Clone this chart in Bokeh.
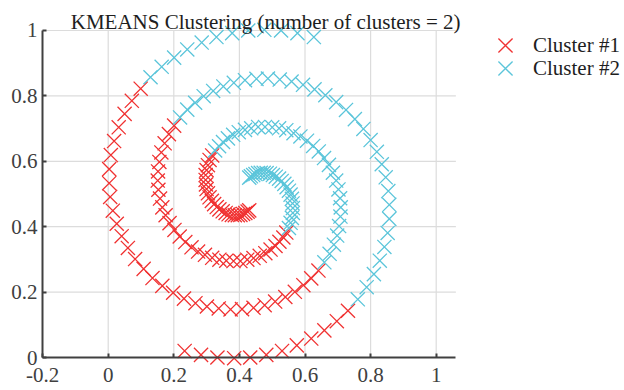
from bokeh.plotting import figure
from bokeh.models import Range1d, FixedTicker, Label, Legend, LegendItem, NumeralTickFormatter
from bokeh.embed import file_html
from bokeh.resources import INLINE

title_text = "KMEANS Clustering (number of clusters = 2)"
series_names = ["Cluster #1", "Cluster #2"]
x_ticks = [-0.2, 0, 0.2, 0.4, 0.6, 0.8, 1]
x_tick_labels = ["-0.2", "0", "0.2", "0.4", "0.6", "0.8", "1"]
y_ticks = [0, 0.2, 0.4, 0.6, 0.8, 1]
y_tick_labels = ["0", "0.2", "0.4", "0.6", "0.8", "1"]

# Cluster #1 (red)
cluster1_x = [
    0.430, 0.425, 0.418, 0.411, 0.403, 0.395, 0.386, 0.377, 0.367, 0.358, 0.349, 0.339, 0.331,
    0.323, 0.316, 0.309, 0.304, 0.300, 0.298, 0.297, 0.297, 0.300, 0.304, 0.309, 0.317,
    0.641, 0.619, 0.595, 0.569, 0.540, 0.509, 0.477, 0.443, 0.408, 0.373, 0.337, 0.301, 0.266,
    0.231, 0.198, 0.165, 0.135, 0.108, 0.082, 0.060, 0.041, 0.026, 0.014, 0.006, 0.003, 0.003,
    0.008, 0.018, 0.032, 0.050, 0.072, 0.099,
    0.543, 0.534, 0.522, 0.510, 0.495, 0.479, 0.462, 0.443, 0.424, 0.403, 0.382, 0.360, 0.339,
    0.317, 0.295, 0.274, 0.254, 0.235, 0.218, 0.202, 0.187, 0.175, 0.165, 0.158, 0.153, 0.151,
    0.152, 0.156, 0.162, 0.172, 0.185, 0.201,
    0.731, 0.697, 0.659, 0.619, 0.575, 0.530, 0.482, 0.433, 0.384, 0.333, 0.283, 0.233,
]
cluster1_y = [
    0.450, 0.446, 0.442, 0.439, 0.436, 0.435, 0.435, 0.436, 0.438, 0.442, 0.447, 0.453, 0.460,
    0.469, 0.479, 0.490, 0.502, 0.515, 0.529, 0.543, 0.558, 0.573, 0.588, 0.604, 0.618,
    0.266, 0.242, 0.221, 0.201, 0.185, 0.171, 0.160, 0.152, 0.148, 0.147, 0.150, 0.156, 0.166,
    0.180, 0.198, 0.219, 0.243, 0.271, 0.301, 0.335, 0.371, 0.409, 0.449, 0.491, 0.533, 0.576,
    0.619, 0.662, 0.704, 0.745, 0.785, 0.822,
    0.382, 0.367, 0.354, 0.341, 0.330, 0.319, 0.311, 0.304, 0.299, 0.295, 0.295, 0.296, 0.299,
    0.305, 0.314, 0.324, 0.337, 0.353, 0.370, 0.390, 0.411, 0.435, 0.459, 0.486, 0.513, 0.541,
    0.569, 0.598, 0.627, 0.655, 0.683, 0.709,
    0.143, 0.111, 0.083, 0.058, 0.037, 0.020, 0.008, 0.000, -0.002, 0.000, 0.008, 0.020,
]

# Cluster #2 (cyan)
cluster2_x = [
    0.430, 0.435, 0.442, 0.449, 0.457, 0.465, 0.474, 0.483, 0.493, 0.502, 0.511, 0.521, 0.529,
    0.537, 0.544, 0.551, 0.556, 0.560, 0.562, 0.563, 0.563, 0.560, 0.556, 0.551,
    0.326, 0.338, 0.350, 0.365, 0.381, 0.398, 0.417, 0.436, 0.457, 0.478, 0.500, 0.521, 0.543,
    0.565, 0.586, 0.606, 0.625, 0.642, 0.658, 0.673, 0.685, 0.695, 0.702, 0.707, 0.709, 0.708,
    0.704, 0.698, 0.688, 0.675, 0.659,
    0.219, 0.241, 0.265, 0.291, 0.320, 0.351, 0.383, 0.417, 0.452, 0.487, 0.523, 0.559, 0.594,
    0.629, 0.662, 0.695, 0.725, 0.752, 0.778, 0.800, 0.819, 0.834, 0.846, 0.854, 0.857, 0.857,
    0.852, 0.842, 0.828, 0.810, 0.788, 0.761,
    0.129, 0.163, 0.201, 0.241, 0.285, 0.330, 0.378, 0.427, 0.476, 0.527, 0.577, 0.627,
]
cluster2_y = [
    0.550, 0.554, 0.558, 0.561, 0.564, 0.565, 0.565, 0.564, 0.562, 0.558, 0.553, 0.547, 0.540,
    0.531, 0.521, 0.510, 0.498, 0.485, 0.471, 0.457, 0.442, 0.427, 0.412, 0.396,
    0.633, 0.646, 0.659, 0.670, 0.681, 0.689, 0.696, 0.701, 0.705, 0.705, 0.704, 0.701, 0.695,
    0.686, 0.676, 0.663, 0.647, 0.630, 0.610, 0.589, 0.565, 0.541, 0.514, 0.487, 0.459, 0.431,
    0.402, 0.373, 0.345, 0.317, 0.291,
    0.734, 0.758, 0.779, 0.799, 0.815, 0.829, 0.840, 0.848, 0.852, 0.853, 0.850, 0.844, 0.834,
    0.820, 0.802, 0.781, 0.757, 0.729, 0.699, 0.665, 0.629, 0.591, 0.551, 0.509, 0.467, 0.424,
    0.381, 0.338, 0.296, 0.255, 0.215, 0.178,
    0.857, 0.889, 0.917, 0.942, 0.963, 0.980, 0.992, 1.000, 1.002, 1.000, 0.992, 0.980,
]

# axes box extent (data units) and full-canvas view ranges
X_AXIS_END = 1.06
FONT = "Liberation Serif"
RED = "#F03232"
CYAN = "#5BC5DA"
AXIS = "#404040"
GRID = "#DCDCDC"

p = figure(width=624, height=390, output_backend="svg", toolbar_location=None,
           x_range=Range1d(-0.3284, 1.5741), y_range=Range1d(-0.1009, 1.0917),
           min_border=0, min_border_left=0, min_border_right=0,
           min_border_top=0, min_border_bottom=0)
p.outline_line_color = None
p.background_fill_color = "white"
p.border_fill_color = "white"
p.xgrid.visible = False
p.ygrid.visible = False

# grid lines limited to the axes box
n_vx = len(x_ticks) - 1
p.segment(x0=x_ticks[1:], y0=[y_ticks[0]] * n_vx, x1=x_ticks[1:], y1=[y_ticks[-1]] * n_vx,
          line_color=GRID, line_width=1.2, level="underlay")
n_hy = len(y_ticks) - 1
p.segment(x0=[x_ticks[0]] * n_hy, y0=y_ticks[1:], x1=[X_AXIS_END] * n_hy, y1=y_ticks[1:],
          line_color=GRID, line_width=1.2, level="underlay")

# axes
for ax in (p.xaxis[0], p.yaxis[0]):
    ax.axis_line_color = AXIS
    ax.axis_line_width = 2
    ax.major_tick_line_color = AXIS
    ax.major_tick_line_width = 2
    ax.major_tick_in = 4
    ax.major_tick_out = 0
    ax.minor_tick_line_color = None
    ax.major_label_text_font = FONT
    ax.major_label_text_font_size = "21px"
    ax.major_label_text_color = AXIS
    ax.formatter = NumeralTickFormatter(format="0.[0]")

p.xaxis.ticker = FixedTicker(ticks=x_ticks)
p.xaxis.major_label_overrides = dict(zip(x_ticks, x_tick_labels))
p.xaxis.fixed_location = y_ticks[0]
p.xaxis.bounds = (x_ticks[0], X_AXIS_END)
p.xaxis.major_label_standoff = 10
p.yaxis.ticker = FixedTicker(ticks=y_ticks)
p.yaxis.major_label_overrides = dict(zip(y_ticks, y_tick_labels))
p.yaxis.fixed_location = x_ticks[0]
p.yaxis.bounds = (y_ticks[0], y_ticks[-1])
p.yaxis.major_label_standoff = 5

r1 = p.scatter(cluster1_x, cluster1_y, marker="x", size=20, line_color=RED, line_width=1.3)
r2 = p.scatter(cluster2_x, cluster2_y, marker="x", size=20, line_color=CYAN, line_width=1.3)

title = Label(x=0.48, y=1.0, y_offset=8, text=title_text, text_align="center",
              text_baseline="alphabetic", text_font=FONT, text_font_size="21px",
              text_color="#1E1E1E")
p.add_layout(title)

for i, (name, rend) in enumerate(zip(series_names, [r1, r2])):
    lg = Legend(items=[LegendItem(label=name, renderers=[rend])],
                location=(480, 320 - 23 * i), padding=0, margin=0, spacing=0,
                glyph_width=50, glyph_height=50, label_height=50, label_standoff=3,
                label_text_font=FONT, label_text_font_size="21px", label_text_color="#1E1E1E",
                border_line_color=None, background_fill_alpha=0)
    p.add_layout(lg)

open("out.html", "w").write(file_html(p, INLINE))
